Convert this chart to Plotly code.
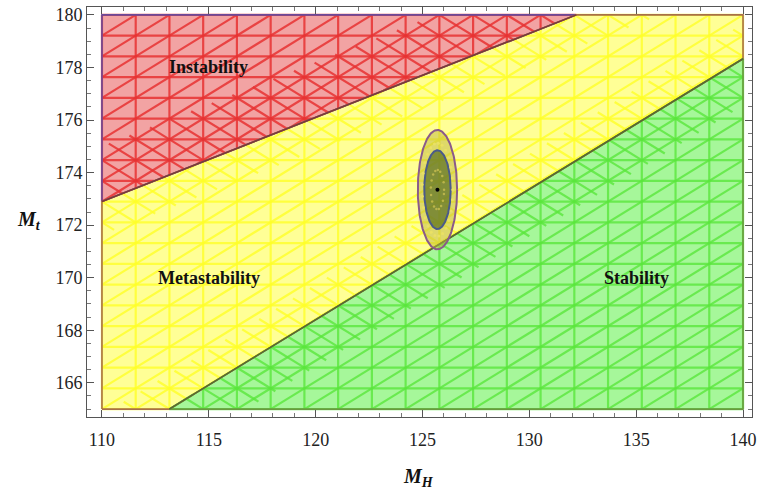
import numpy as np
import plotly.graph_objects as go

# ---------------- data ----------------
x_range = [110, 140]
y_range = [165, 180]
# instability boundary: from (110, red_y0) to (red_x1, 180)
red_y0 = 172.9
red_x1 = 132.2
# stability boundary: from (green_x0, 165) to (140, green_y1)
green_x0 = 113.15
green_y1 = 178.33
# best-fit point and ellipses (semi axes)
center = (125.7, 173.35)
outer_semi = (0.92, 2.27)
inner_semi = (0.62, 1.50)
labels = ["Instability", "Metastability", "Stability"]
label_pos = [(115.0, 178.0), (115.0, 170.0), (135.0, 170.0)]
x_ticks = [110, 115, 120, 125, 130, 135, 140]
y_ticks = [166, 168, 170, 172, 174, 176, 178, 180]
mesh_n = 19

SERIF = "Liberation Serif, Times New Roman, serif"

# ---------------- geometry helpers ----------------
x0, x1 = x_range
y0, y1 = y_range
red_poly = [(x0, red_y0), (red_x1, y1), (x0, y1)]
green_poly = [(green_x0, y0), (x1, y0), (x1, green_y1)]
yellow_poly = [(x0, y0), (green_x0, y0), (x1, green_y1), (x1, y1), (red_x1, y1), (x0, red_y0)]


def halfplanes(poly):
    hp = []
    n = len(poly)
    for i in range(n):
        a = poly[i]
        b = poly[(i + 1) % n]
        ex, ey = b[0] - a[0], b[1] - a[1]
        hp.append((a, (-ey, ex)))
    return hp


def clip(p0, d, hps):
    tE, tL = -1e9, 1e9
    for a, nrm in hps:
        num = nrm[0] * (p0[0] - a[0]) + nrm[1] * (p0[1] - a[1])
        den = nrm[0] * d[0] + nrm[1] * d[1]
        if abs(den) < 1e-12:
            if num < 0:
                return None
            continue
        t = -num / den
        if den > 0:
            tE = max(tE, t)
        else:
            tL = min(tL, t)
    if tE >= tL:
        return None
    return ((p0[0] + tE * d[0], p0[1] + tE * d[1]), (p0[0] + tL * d[0], p0[1] + tL * d[1]))


dx = (x1 - x0) / mesh_n
dy = (y1 - y0) / mesh_n
slope = dy / dx


def mesh_lines(hps, band=None):
    segs = []
    if band is None:
        for k in range(mesh_n + 1):
            segs.append(((x0 + k * dx, y0), (0, 1)))
        for j in range(mesh_n + 1):
            segs.append(((x0, y0 + j * dy), (1, 0)))
        for m in range(-mesh_n * 2, mesh_n * 2):
            segs.append(((x0, y0 + m * dy), (1, slope)))
    else:
        for m in range(-mesh_n * 2, mesh_n * 3):
            segs.append(((x0, y0 + m * dy), (1, -slope)))
    xs, ys = [], []
    allh = hps + (band or [])
    for p0, d in segs:
        r = clip(p0, d, allh)
        if r is None:
            continue
        xs += [r[0][0], r[1][0], None]
        ys += [r[0][1], r[1][1], None]
    return xs, ys


def line_band(pa, pb, width, side):
    ex, ey = pb[0] - pa[0], pb[1] - pa[1]
    nrm = (-ey * side, ex * side)
    L_ = np.hypot(*nrm)
    off = (pa[0] + nrm[0] / L_ * width, pa[1] + nrm[1] / L_ * width)
    return [(pa, nrm), (off, (-nrm[0], -nrm[1]))]


fig = go.Figure()

regions = [
    (red_poly, "#f2a3a3", "rgba(232,50,50,0.85)", "#6a4a9a"),
    (yellow_poly, "#ffff96", "rgba(255,255,40,0.8)", "#a8704a"),
    (green_poly, "#a6f79a", "rgba(90,230,60,0.8)", "#6a9a40"),
]
red_a, red_b = (x0, red_y0), (red_x1, y1)
g_a, g_b = (green_x0, y0), (x1, green_y1)
bands = {
    0: [line_band(red_a, red_b, 2.0, 1)],
    1: [line_band(red_a, red_b, 1.2, -1), line_band(g_a, g_b, 1.2, 1)],
    2: [line_band(g_a, g_b, 1.6, -1)],
}

for idx, (poly, fill, mesh_c, edge_c) in enumerate(regions):
    px = [p[0] for p in poly] + [poly[0][0]]
    py = [p[1] for p in poly] + [poly[0][1]]
    fig.add_trace(go.Scatter(x=px, y=py, mode="lines", fill="toself", fillcolor=fill,
                             line=dict(width=0), hoverinfo="skip", showlegend=False))
    hps = halfplanes(poly)
    mx, my = mesh_lines(hps)
    for b in bands[idx]:
        bx, by = mesh_lines(hps, band=b)
        mx += bx
        my += by
    fig.add_trace(go.Scatter(x=mx, y=my, mode="lines", line=dict(color=mesh_c, width=2.2),
                             hoverinfo="skip", showlegend=False))

for idx, (poly, fill, mesh_c, edge_c) in enumerate(regions):
    px = [p[0] for p in poly] + [poly[0][0]]
    py = [p[1] for p in poly] + [poly[0][1]]
    fig.add_trace(go.Scatter(x=px, y=py, mode="lines", line=dict(color=edge_c, width=1.6),
                             hoverinfo="skip", showlegend=False))
fig.add_trace(go.Scatter(x=[red_a[0], red_b[0]], y=[red_a[1], red_b[1]], mode="lines",
                         line=dict(color="#7a3a3a", width=1.6), showlegend=False, hoverinfo="skip"))
fig.add_trace(go.Scatter(x=[g_a[0], g_b[0]], y=[g_a[1], g_b[1]], mode="lines",
                         line=dict(color="#5a6a30", width=1.6), showlegend=False, hoverinfo="skip"))

# ellipses
th = np.linspace(0, 2 * np.pi, 200)
ex_o = center[0] + outer_semi[0] * np.cos(th)
ey_o = center[1] + outer_semi[1] * np.sin(th)
fig.add_trace(go.Scatter(x=ex_o, y=ey_o, mode="lines", fill="toself", fillcolor="rgba(190,180,60,0.5)",
                         line=dict(color="#8a5a8a", width=2), showlegend=False, hoverinfo="skip"))
ex_i = center[0] + inner_semi[0] * np.cos(th)
ey_i = center[1] + inner_semi[1] * np.sin(th)
fig.add_trace(go.Scatter(x=ex_i, y=ey_i, mode="lines", fill="toself", fillcolor="rgba(90,110,35,0.7)",
                         line=dict(color="#4a5a8a", width=2), showlegend=False, hoverinfo="skip"))
fig.add_trace(go.Scatter(x=center[0] + 0.78 * outer_semi[0] * np.cos(th[::8]),
                         y=center[1] + 0.78 * outer_semi[1] * np.sin(th[::8]),
                         mode="markers", marker=dict(size=3, color="rgba(235,225,100,0.9)"),
                         showlegend=False, hoverinfo="skip"))
fig.add_trace(go.Scatter(x=center[0] + 0.5 * inner_semi[0] * np.cos(th[::12]),
                         y=center[1] + 0.5 * inner_semi[1] * np.sin(th[::12]),
                         mode="markers", marker=dict(size=2.5, color="rgba(200,190,80,0.8)"),
                         showlegend=False, hoverinfo="skip"))
fig.add_trace(go.Scatter(x=[center[0]], y=[center[1]], mode="markers",
                         marker=dict(size=4, color="black"), showlegend=False, hoverinfo="skip"))

for t, (lx, ly) in zip(labels, label_pos):
    fig.add_annotation(x=lx, y=ly, text="<b>%s</b>" % t, showarrow=False,
                       font=dict(family=SERIF, size=18, color="#111"))

W, H = 767, 489
L, R, T, B = 87, 15, 5, 72
pw, ph = W - L - R, H - T - B


def paper(px, py):
    return (px - L) / pw, (H - B - py) / ph


mx_, my_ = paper(29, 220)
fig.add_annotation(x=mx_, y=my_, xref="paper", yref="paper", showarrow=False,
                   xanchor="center", yanchor="middle",
                   text="<b><i>M</i></b><sub><b><i>t</i></b></sub>",
                   font=dict(family=SERIF, size=20, color="#111"))
hx_, hy_ = paper(418, 478)
fig.add_annotation(x=hx_, y=hy_, xref="paper", yref="paper", showarrow=False,
                   xanchor="center", yanchor="middle",
                   text="<b><i>M</i></b><sub><b><i>H</i></b></sub>",
                   font=dict(family=SERIF, size=20, color="#111"))

axis_common = dict(showgrid=False, zeroline=False, showline=True, linecolor="#555", linewidth=1,
                   mirror="allticks", ticks="inside", ticklen=7, tickcolor="#555",
                   tickfont=dict(family=SERIF, size=18, color="#222"))
fig.update_xaxes(range=[109.3, 140.42], tickvals=x_ticks, ticklabelstandoff=6,
                 minor=dict(dtick=1, ticklen=4, ticks="inside", tickcolor="#777"), **axis_common)
fig.update_yaxes(range=[164.7, 180.3], tickvals=y_ticks,
                 minor=dict(dtick=0.5, ticklen=4, ticks="inside", tickcolor="#777"), **axis_common)

fig.update_layout(width=W, height=H, margin=dict(l=L, r=R, t=T, b=B),
                  plot_bgcolor="white", paper_bgcolor="white", showlegend=False)
fig.write_html("out.html", config={"displayModeBar": False},
               post_script="document.body.style.margin='0';")
